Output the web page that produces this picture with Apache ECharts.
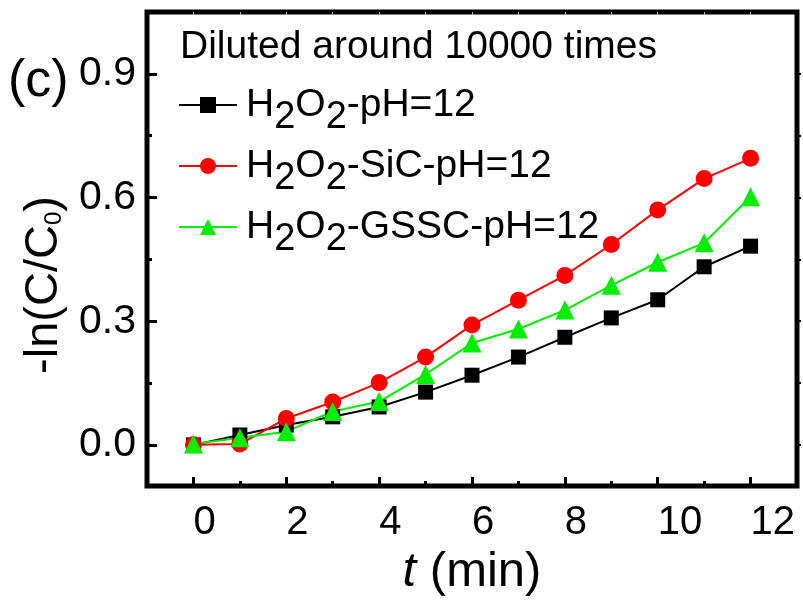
<!DOCTYPE html>
<html>
<head>
<meta charset="utf-8">
<script src="https://cdn.jsdelivr.net/npm/echarts@6/dist/echarts.min.js"></script>
<style>
  html, body { margin: 0; padding: 0; background: #fff; }
  #chart { width: 803px; height: 602px; }
</style>
</head>
<body>
<div id="chart"></div>
<script>
// time points (min)
const times = [0, 1, 2, 3, 4, 5, 6, 7, 8, 9, 10, 11, 12];
// -ln(C/C0) for the three systems
const ph12 = [0.000, 0.024, 0.048, 0.068, 0.092, 0.128, 0.169, 0.213, 0.261, 0.308, 0.352, 0.432, 0.482];
const sic = [0.000, 0.002, 0.064, 0.104, 0.151, 0.213, 0.291, 0.351, 0.411, 0.486, 0.570, 0.646, 0.695];
const gssc = [0.002, 0.017, 0.032, 0.081, 0.105, 0.171, 0.247, 0.281, 0.327, 0.387, 0.443, 0.490, 0.602];
const seriesNames = ['H2O2-pH=12', 'H2O2-SiC-pH=12', 'H2O2-GSSC-pH=12'];
const xTickLabels = [0, 2, 4, 6, 8, 10, 12];
const xMinorTicks = [1, 3, 5, 7, 9, 11];
const yTickLabels = [0, 0.3, 0.6, 0.9];
const yMinorTicks = [0.15, 0.45, 0.75];

const FONT = "'Liberation Sans', Arial, Helvetica, sans-serif";
const chart = echarts.init(document.getElementById('chart'));

function pairs(vals) {
  return times.map((t, i) => [t, vals[i]]);
}

// H2O2 -> H{2}O{2} with big, lowered subscripts
function legendText(name) {
  const rest = name.replace(/^H2O2/, '');
  return '{m|H}{s|2}{m|O}{s|2}{m|' + rest + '}';
}

const option = {
  animation: false,
  backgroundColor: '#fff',
  grid: {
    left: 147, right: 6, top: 12, bottom: 111,
    show: true, borderWidth: 5, borderColor: '#000'
  },
  title: [
    {
      text: '(c)', left: 8, top: 56, padding: 0,
      textStyle: { fontFamily: FONT, fontSize: 52, fontWeight: 'normal', color: '#000' }
    },
    {
      text: 'Diluted around 10000 times', left: 180, top: 28, padding: 0,
      textStyle: { fontFamily: FONT, fontSize: 39, fontWeight: 'normal', color: '#000' }
    }
  ],
  legend: {
    orient: 'vertical',
    left: 178, top: 73,
    itemWidth: 58, itemHeight: 20, itemGap: -3,
    padding: 0,
    data: seriesNames,
    formatter: legendText,
    textStyle: {
      fontFamily: FONT, color: '#000', padding: [0, 0, 0, 4],
      rich: {
        m: { fontFamily: FONT, fontSize: 39, lineHeight: 42 },
        s: { fontFamily: FONT, fontSize: 38, lineHeight: 18, padding: [26, 0, 0, 0] }
      }
    }
  },
  xAxis: [
    {
      type: 'value', min: -1, max: 13, position: 'bottom',
      axisLine: { show: false, onZero: false },
      splitLine: { show: false },
      axisTick: { show: true, inside: true, length: 9, customValues: xTickLabels,
        lineStyle: { color: '#000', width: 3 } },
      axisLabel: { show: true, customValues: xTickLabels, align: 'left', margin: 17,
        fontFamily: FONT, fontSize: 40, color: '#000' },
      name: '{it|t} (min)', nameLocation: 'middle', nameGap: 58,
      nameTextStyle: {
        fontFamily: FONT, fontSize: 49, color: '#000',
        rich: { it: { fontFamily: FONT, fontSize: 49, fontStyle: 'italic' } }
      }
    },
    {
      type: 'value', min: -1, max: 13, position: 'bottom',
      axisLine: { show: false, onZero: false }, splitLine: { show: false }, axisLabel: { show: false },
      axisTick: { show: true, inside: true, length: 5, customValues: xMinorTicks,
        lineStyle: { color: '#000', width: 3 } }
    },
    {
      type: 'value', min: -1, max: 13, position: 'top',
      axisLine: { show: false, onZero: false }, splitLine: { show: false }, axisLabel: { show: false },
      axisTick: { show: true, inside: true, length: 3, customValues: times,
        lineStyle: { color: '#bbb', width: 1 } }
    }
  ],
  yAxis: [
    {
      type: 'value', min: -0.1, max: 1.05, position: 'left',
      axisLine: { show: false, onZero: false }, splitLine: { show: false },
      axisTick: { show: true, inside: true, length: 10, customValues: yTickLabels,
        lineStyle: { color: '#000', width: 3 } },
      axisLabel: { show: true, customValues: yTickLabels, margin: 11,
        formatter: v => v.toFixed(1),
        fontFamily: FONT, fontSize: 41, color: '#000' }
    },
    {
      type: 'value', min: -0.1, max: 1.05, position: 'left',
      axisLine: { show: false, onZero: false }, splitLine: { show: false }, axisLabel: { show: false },
      axisTick: { show: true, inside: true, length: 5, customValues: yMinorTicks,
        lineStyle: { color: '#000', width: 3 } }
    },
    {
      type: 'value', min: -0.1, max: 1.05, position: 'right',
      axisLine: { show: false, onZero: false }, splitLine: { show: false }, axisLabel: { show: false },
      axisTick: { show: true, inside: false, length: 4,
        customValues: [0, 0.15, 0.3, 0.45, 0.6, 0.75, 0.9],
        lineStyle: { color: '#000', width: 2 } }
    }
  ],
  graphic: [
    {
      type: 'text', x: 44, y: 285, rotation: Math.PI / 2,
      style: {
        text: '{m|-ln(C/C}{s|0}{m|)}',
        align: 'center', verticalAlign: 'middle',
        fill: '#000',
        rich: {
          m: { fontFamily: FONT, fontSize: 47, fill: '#000' },
          s: { fontFamily: FONT, fontSize: 24, fill: '#000', padding: [20, 0, 0, 0] }
        }
      }
    }
  ],
  series: [
    {
      name: seriesNames[0], type: 'line', data: pairs(ph12),
      symbol: 'rect', symbolSize: 15,
      itemStyle: { color: '#000' },
      lineStyle: { color: '#000', width: 2 }
    },
    {
      name: seriesNames[1], type: 'line', data: pairs(sic),
      symbol: 'circle', symbolSize: 17,
      itemStyle: { color: '#ff0000' },
      lineStyle: { color: '#ff0000', width: 2 }
    },
    {
      name: seriesNames[2], type: 'line', data: pairs(gssc),
      symbol: 'triangle', symbolSize: 19,
      itemStyle: { color: '#00ee00' },
      lineStyle: { color: '#00ee00', width: 2 }
    }
  ]
};

chart.setOption(option);
</script>
</body>
</html>
